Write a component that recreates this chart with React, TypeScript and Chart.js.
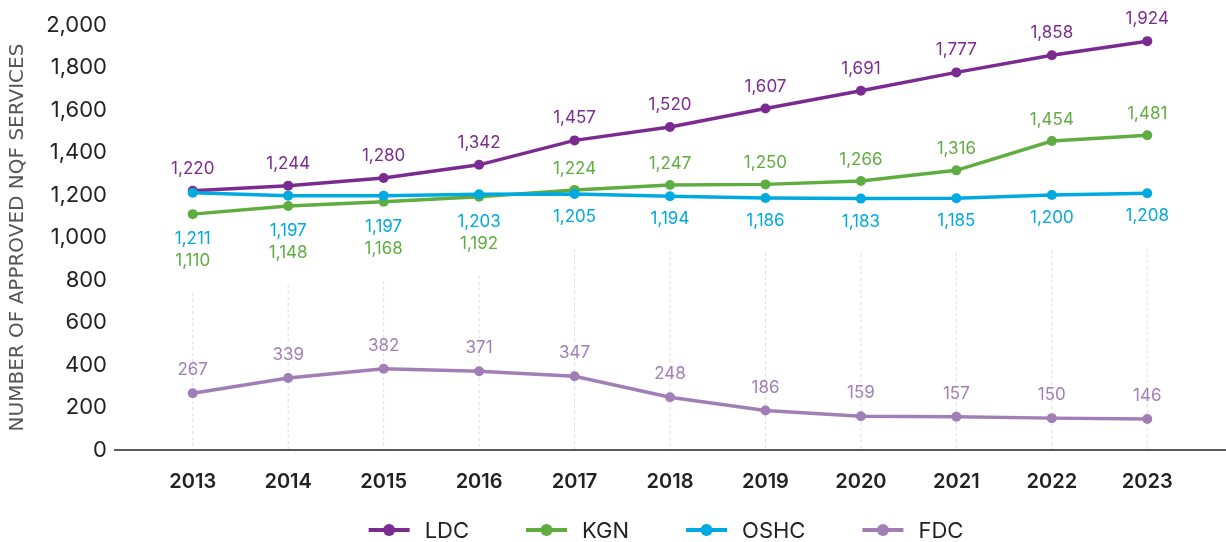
import React, { useEffect, useRef } from 'react';
import { Chart, registerables } from 'chart.js';

Chart.register(...registerables);

const years = ['2013', '2014', '2015', '2016', '2017', '2018', '2019', '2020', '2021', '2022', '2023'];
const ldcValues = [1220, 1244, 1280, 1342, 1457, 1520, 1607, 1691, 1777, 1858, 1924];
const kgnValues = [1110, 1148, 1168, 1192, 1224, 1247, 1250, 1266, 1316, 1454, 1481];
const oshcValues = [1211, 1197, 1197, 1203, 1205, 1194, 1186, 1183, 1185, 1200, 1208];
const fdcValues = [267, 339, 382, 371, 347, 248, 186, 159, 157, 150, 146];
const seriesNames = ['LDC', 'KGN', 'OSHC', 'FDC'];
const seriesColors = ['#7B2A8F', '#5FAD41', '#00A9DF', '#A17FB6'];
const yTicks = [0, 200, 400, 600, 800, 1000, 1200, 1400, 1600, 1800, 2000];

const FONT = 'Inter, "Open Sans", sans-serif';
const TITLE_FONT = '"DejaVu Sans", Inter, sans-serif';
const fmt = (v: number) => v.toLocaleString('en-US');

// label centre positions (pixels) for each dataset / index
function labelYs(chart: any): number[][] {
  const pts = [0, 1, 2, 3].map((d) => chart.getDatasetMeta(d).data);
  const out: number[][] = [[], [], [], []];
  for (let i = 0; i < years.length; i++) {
    const yL = pts[0][i].y;
    const yK = pts[1][i].y;
    const yO = pts[2][i].y;
    const yF = pts[3][i].y;
    out[0][i] = yL - 22;
    out[3][i] = yF - 23;
    if (yK > yO) {
      out[2][i] = Math.max(yK, yO) + 25;
      out[1][i] = out[2][i] + 22;
    } else {
      out[1][i] = yK - 21;
      out[2][i] = yO + 23;
    }
  }
  return out;
}

const gridPlugin = {
  id: 'dashGrid',
  beforeDatasetsDraw(chart: any) {
    const { ctx } = chart;
    const xs = chart.scales.x;
    const ys = chart.scales.y;
    const ly = labelYs(chart);
    const bottom = ys.getPixelForValue(0);
    ctx.save();
    ctx.strokeStyle = '#dcdcdc';
    ctx.lineWidth = 1;
    ctx.setLineDash([3, 3]);
    for (let i = 0; i < years.length; i++) {
      const x = xs.getPixelForValue(i);
      const top = Math.max(ly[1][i], ly[2][i]) + 32;
      ctx.beginPath();
      ctx.moveTo(x, top);
      ctx.lineTo(x, bottom);
      ctx.stroke();
    }
    ctx.restore();
  },
  afterDatasetsDraw(chart: any) {
    const { ctx } = chart;
    const ys = chart.scales.y;
    const y0 = ys.getPixelForValue(0);
    ctx.save();
    ctx.strokeStyle = '#222';
    ctx.lineWidth = 1.5;
    ctx.beginPath();
    ctx.moveTo(chart.chartArea.left - 31, y0);
    ctx.lineTo(chart.width, y0);
    ctx.stroke();
    ctx.restore();
  },
};

const labelPlugin = {
  id: 'valueLabels',
  afterDatasetsDraw(chart: any) {
    const { ctx } = chart;
    const ly = labelYs(chart);
    ctx.save();
    ctx.font = `17px ${FONT}`;
    ctx.textAlign = 'center';
    ctx.textBaseline = 'middle';
    chart.data.datasets.forEach((ds: any, d: number) => {
      const meta = chart.getDatasetMeta(d);
      ctx.fillStyle = seriesColors[d];
      meta.data.forEach((pt: any, i: number) => {
        ctx.fillText(fmt(ds.data[i]), pt.x, ly[d][i]);
      });
    });
    ctx.restore();
  },
};

const legendPlugin = {
  id: 'lineLegend',
  afterDraw(chart: any) {
    const { ctx, chartArea } = chart;
    const lineW = 41;
    const gapText = 15;
    const gapItem = 57;
    ctx.save();
    ctx.font = `22px ${FONT}`;
    ctx.textBaseline = 'middle';
    ctx.textAlign = 'left';
    const widths = seriesNames.map((n) => ctx.measureText(n).width);
    const total = widths.reduce((a, w) => a + lineW + gapText + w, 0) + gapItem * (seriesNames.length - 1);
    let x = (chartArea.left + chartArea.right) / 2 - total / 2 - 4;
    const y = chart.height - 12;
    seriesNames.forEach((name, d) => {
      ctx.strokeStyle = seriesColors[d];
      ctx.fillStyle = seriesColors[d];
      ctx.lineWidth = 4;
      ctx.beginPath();
      ctx.moveTo(x, y);
      ctx.lineTo(x + lineW, y);
      ctx.stroke();
      ctx.beginPath();
      ctx.arc(x + lineW / 2, y, 6, 0, Math.PI * 2);
      ctx.fill();
      ctx.fillStyle = '#222';
      ctx.fillText(name, x + lineW + gapText, y + 1);
      x += lineW + gapText + widths[d] + gapItem;
    });
    ctx.restore();
  },
};

export default function App() {
  const ref = useRef<HTMLCanvasElement | null>(null);
  useEffect(() => {
    document.body.style.margin = '0';
    const canvas = ref.current;
    if (!canvas) return;
    const values = [ldcValues, kgnValues, oshcValues, fdcValues];
    const order = [1, 2, 0, 3];
    const chart = new Chart(canvas, {
      type: 'line',
      data: {
        labels: years,
        datasets: values.map((v, d) => ({
          label: seriesNames[d],
          data: v,
          borderColor: seriesColors[d],
          backgroundColor: seriesColors[d],
          pointBackgroundColor: seriesColors[d],
          pointBorderColor: seriesColors[d],
          borderWidth: 3.5,
          pointRadius: 5,
          pointBorderWidth: 0,
          tension: 0,
          order: order[d],
        })),
      },
      options: {
        animation: false,
        responsive: false,
        devicePixelRatio: 1,
        layout: { padding: { top: 25, right: 31, left: 0, bottom: 0 } },
        plugins: {
          legend: { display: false },
          tooltip: { enabled: false },
        },
        scales: {
          x: {
            type: 'category',
            offset: true,
            grid: { display: false, drawTicks: false },
            border: { display: false },
            ticks: {
              padding: 20,
              color: '#222',
              font: { family: FONT, size: 20, weight: '600' },
              maxRotation: 0,
            },
            afterFit: (s: any) => {
              s.height = 92;
            },
          },
          y: {
            min: 0,
            max: 2000,
            grid: { display: false, drawTicks: false },
            border: { display: false },
            afterBuildTicks: (s: any) => {
              s.ticks = yTicks.map((v) => ({ value: v }));
            },
            ticks: {
              padding: 38,
              color: '#222',
              font: { family: FONT, size: 22 },
              callback: (v: any) => fmt(Number(v)),
            },
            title: {
              display: true,
              text: 'NUMBER OF APPROVED NQF SERVICES',
              color: '#555',
              font: { family: TITLE_FONT, size: 20 },
              padding: { top: 6, bottom: 0 },
            },
            afterFit: (s: any) => {
              s.width = 145;
              s.paddingTop = 0;
              s.paddingBottom = 0;
            },
          },
        },
      },
      plugins: [gridPlugin, labelPlugin, legendPlugin],
    });
    return () => chart.destroy();
  }, []);
  return (
    <div style={{ width: 1226, height: 542 }}>
      <canvas ref={ref} width={1226} height={542} />
    </div>
  );
}
